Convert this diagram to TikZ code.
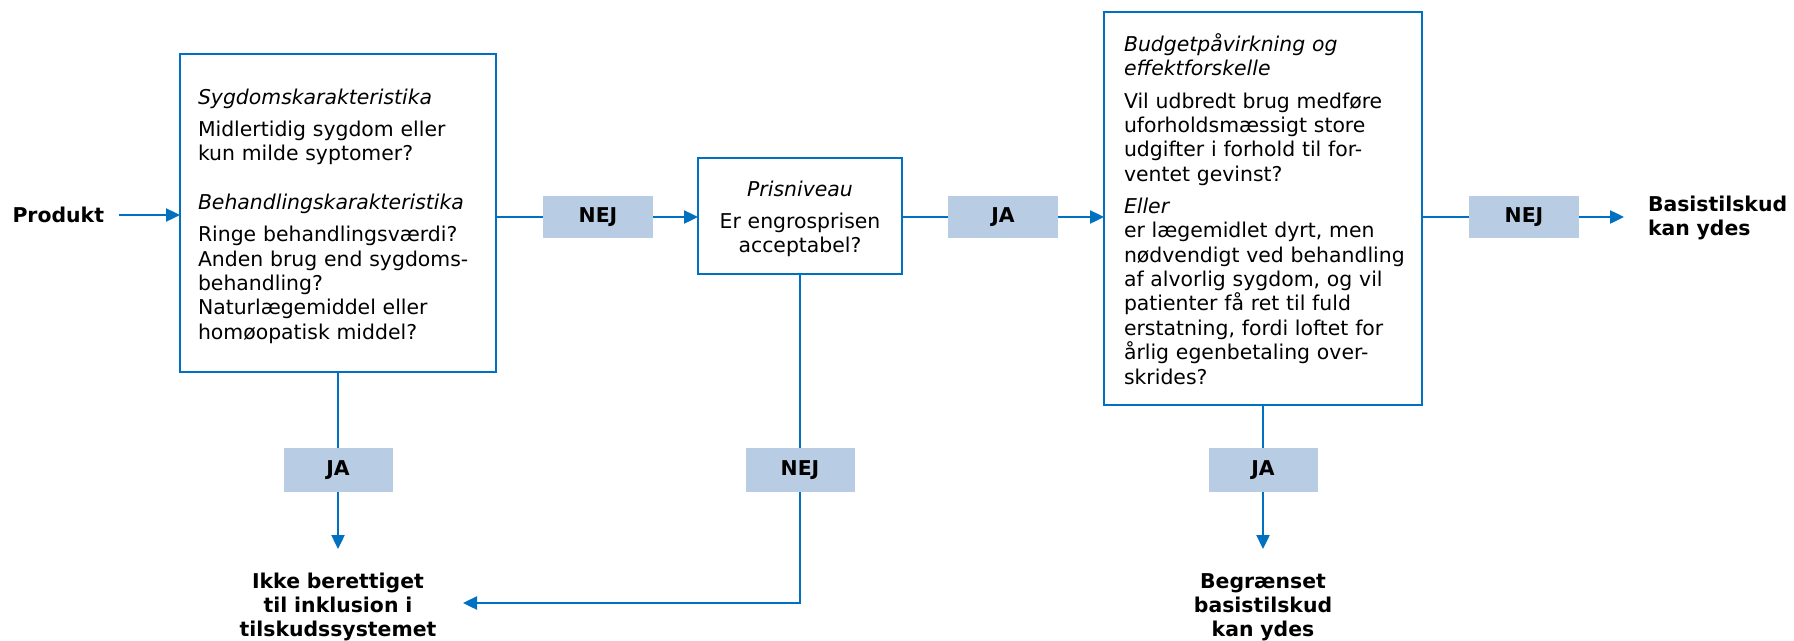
\documentclass[tikz,border=0pt]{standalone}
\usepackage{fontspec}
\setmainfont{DejaVu Sans}
\usetikzlibrary{arrows.meta}
\definecolor{flowblue}{RGB}{0,112,192}
\definecolor{tagfill}{RGB}{184,204,228}
\begin{document}
\begin{tikzpicture}[x=1pt,y=-1pt,
  every node/.style={inner sep=0pt, outer sep=0pt},
  qbox/.style={draw=flowblue, line width=2.8pt, fill=white, anchor=north west},
  tag/.style={fill=tagfill, minimum width=110pt, minimum height=42pt,
    font=\fontsize{20.4}{24.4}\selectfont\bfseries},
  body/.style={font=\fontsize{20.4}{24.4}\selectfont, text width=295pt,
    align=left, anchor=base west},
  outcome/.style={font=\fontsize{20.4}{24.4}\selectfont\bfseries,
    text width=260pt, align=center, anchor=base},
  link/.style={draw=flowblue, line width=2.4pt},
  arr/.style={link, -{Triangle[length=14pt,width=13pt]}},
]
\useasboundingbox (0,0) rectangle (1794,640);

% question boxes
\node[qbox, minimum width=316pt, minimum height=318pt] (crit) at (180,54) {};
\node[qbox, minimum width=204pt, minimum height=116pt] (price) at (698,158) {};
\node[qbox, minimum width=318pt, minimum height=393pt] (budget) at (1104,12) {};

% question texts
\node[body] (critText) at (198,104) {\textit{Sygdomskarakteristika}\\[8pt]Midlertidig sygdom eller\\kun milde syptomer?\\[24.5pt]\textit{Behandlingskarakteristika}\\[7.6pt]Ringe behandlingsværdi?\\Anden brug end sygdoms-\\behandling?\\Naturlægemiddel eller\\homøopatisk middel?};

\node[body, text width=190pt, align=center, anchor=base] (priceText) at (800,196) {\textit{Prisniveau}\\[7.6pt]Er engrosprisen\\acceptabel?};

\node[body] (budgetText) at (1124,51.5) {\textit{Budgetpåvirkning og}\\\textit{effektforskelle}\\[7.7pt]Vil udbredt brug medføre\\uforholdsmæssigt store\\udgifter i forhold til for-\\ventet gevinst?\\[7.7pt]\textit{Eller}\\er lægemidlet dyrt, men\\nødvendigt ved behandling\\af alvorlig sygdom, og vil\\patienter få ret til fuld\\erstatning, fordi loftet for\\årlig egenbetaling over-\\skrides?};

% answer tags
\node[tag] (nejA) at (598,217) {NEJ};
\node[tag] (jaA) at (1003,217) {JA};
\node[tag] (nejB) at (1524,217) {NEJ};
\node[tag, minimum width=109pt, minimum height=44pt] (jaDown) at (338,470) {JA};
\node[tag, minimum width=109pt, minimum height=44pt] (nejDown) at (800,470) {NEJ};
\node[tag, minimum width=109pt, minimum height=44pt] (jaDownB) at (1263,470) {JA};

% start and outcomes
\node[font=\fontsize{20.4}{24.4}\selectfont\bfseries, anchor=east] (produkt) at (104,215) {Produkt};
\node[outcome, text width=150pt, align=left, anchor=base west] (basis) at (1648,211) {Basistilskud\\kan ydes};
\node[outcome, text width=252pt] (excluded) at (338,588) {Ikke berettiget\\til inklusion i\\tilskudssystemet};
\node[outcome] (limited) at (1263,588) {Begrænset\\basistilskud\\kan ydes};

\coordinate (basisIn) at (1624,217);
\coordinate (excludedIn) at (338,549);
\coordinate (excludedSide) at (463,603);
\coordinate (limitedIn) at (1263,549);

% connectors
\draw[arr] ([xshift=15pt]produkt.east) -- (produkt.east -| crit.west);
\draw[link] (crit.east |- nejA.west) -- (nejA.west);
\draw[arr] (nejA.east) -- (nejA.east -| price.west);
\draw[link] (price.east |- jaA.west) -- (jaA.west);
\draw[arr] (jaA.east) -- (jaA.east -| budget.west);
\draw[link] (budget.east |- nejB.west) -- (nejB.west);
\draw[arr] (nejB.east) -- (basisIn);
\draw[link] (crit.south -| jaDown.north) -- (jaDown.north);
\draw[arr] (jaDown.south) -- (excludedIn);
\draw[link] (price.south -| nejDown.north) -- (nejDown.north);
\draw[arr] (nejDown.south) |- (excludedSide);
\draw[link] (budget.south -| jaDownB.north) -- (jaDownB.north);
\draw[arr] (jaDownB.south) -- (limitedIn);
\end{tikzpicture}
\end{document}
